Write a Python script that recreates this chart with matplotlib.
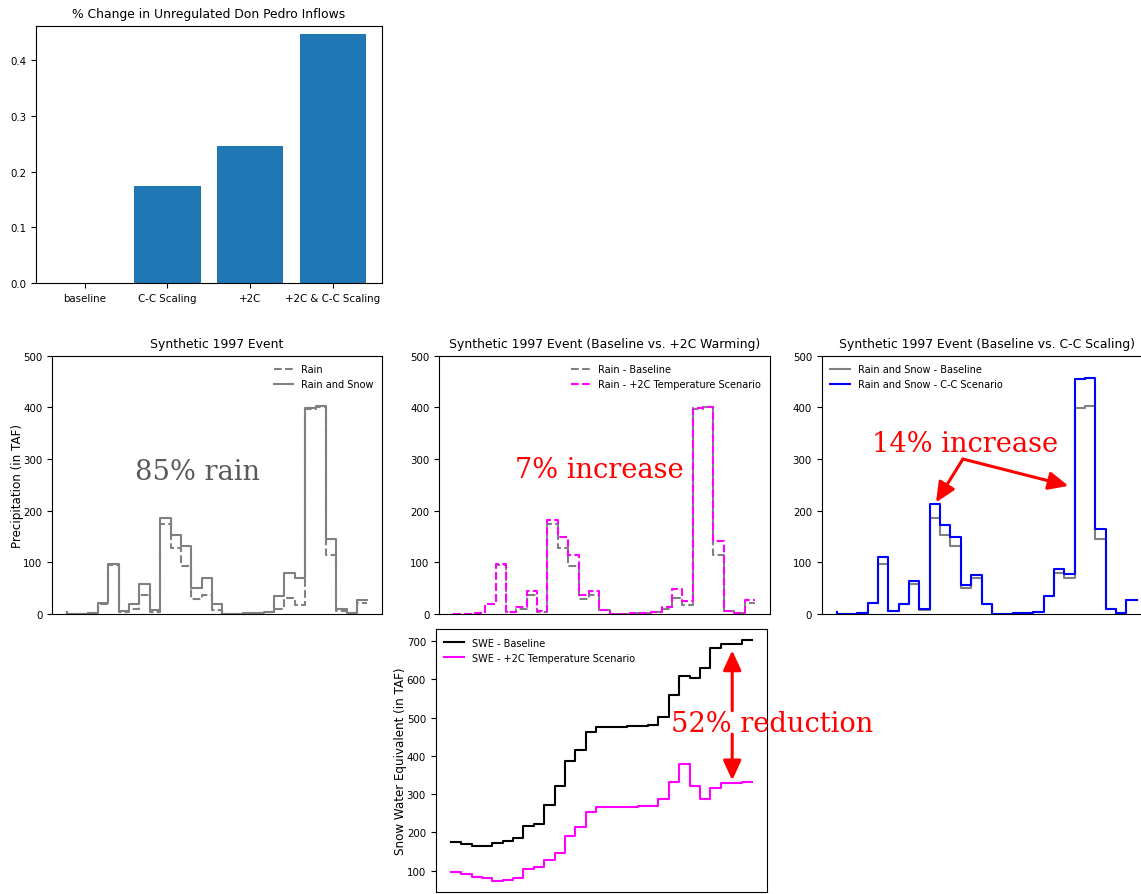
import matplotlib
matplotlib.use('Agg')
import matplotlib.pyplot as plt
import numpy as np

# ---------------- data ----------------
bar_categories = ['baseline', 'C-C Scaling', '+2C', '+2C & C-C Scaling']
bar_values = [0.0, 0.1746, 0.2463, 0.4472]

days = list(range(30))
rain_baseline = [2, 0, 0, 1, 19, 95, 3, 10, 37, 4, 175, 128, 93, 30, 37, 7,
                 0, 0, 1, 2, 3, 10, 31, 18, 397, 400, 114, 5, 1, 22]
rain_snow_baseline = [3, 0, 0, 1, 21, 97, 5, 19, 58, 8, 186, 152, 132, 51, 69, 19,
                      0, 0, 1, 2, 4, 34, 79, 69, 398, 402, 145, 10, 1, 28]
rain_plus2c = [2, 0, 0, 1, 19, 97, 3, 13, 44, 5, 181, 150, 114, 37, 44, 8,
               0, 0, 1, 2, 3, 14, 48, 26, 398, 401, 141, 5, 1, 27]
rain_snow_cc = [3, 0, 0, 1, 21, 110, 6, 19, 63, 9, 213, 173, 150, 56, 76, 19,
                0, 0, 1, 2, 4, 34, 88, 78, 454, 457, 165, 9, 2, 28]
swe_baseline = [174, 174, 170, 163, 165, 172, 178, 186, 216, 222, 271, 320, 386, 415, 463,
                476, 476, 476, 477, 478, 481, 503, 560, 610, 604, 631, 682, 694, 694, 704]
swe_plus2c = [97, 97, 92, 83, 81, 72, 75, 81, 104, 109, 127, 147, 190, 215, 253,
              267, 267, 267, 267, 268, 270, 288, 331, 379, 320, 287, 316, 328, 328, 331]

# ---------------- figure ----------------
W, H = 1141, 895
fig = plt.figure(figsize=(W / 100, H / 100), dpi=100)

TITLE = 8.9
TICK = 7.4
LEG = 7.0
YLAB = 8.6
SERIF = 19.6


def px_axes(left, top, right, bottom):
    return fig.add_axes([left / W, 1 - bottom / H, (right - left) / W, (bottom - top) / H])


# ---- bar chart ----
axb = px_axes(36, 26.7, 381.7, 284)
axb.bar(bar_categories, bar_values, width=0.8, color='#1f77b4')
axb.set_ylim(0, 0.4616)
axb.set_yticks([0.0, 0.1, 0.2, 0.3, 0.4])
axb.set_title('% Change in Unregulated Don Pedro Inflows', fontsize=TITLE)
axb.tick_params(labelsize=TICK)


def precip_style(ax, title):
    ax.set_ylim(0, 500)
    ax.set_yticks([0, 100, 200, 300, 400, 500])
    ax.set_xticks([])
    ax.set_title(title, fontsize=TITLE)
    ax.tick_params(labelsize=TICK)


# ---- chart 1 ----
ax1 = px_axes(52, 356.7, 382.3, 615)
ax1.plot(days, rain_baseline, drawstyle='steps-pre', color='gray', ls='--', label='Rain')
ax1.plot(days, rain_snow_baseline, drawstyle='steps-pre', color='gray', ls='-', label='Rain and Snow')
precip_style(ax1, 'Synthetic 1997 Event')
ax1.set_ylabel('Precipitation (in TAF)', fontsize=YLAB, labelpad=-1)
ax1.legend(loc='upper right', frameon=False, fontsize=LEG)
ax1.text(6.6, 262, '85% rain', family='DejaVu Serif', fontsize=SERIF, color='#5a5a5a',
         ha='left', va='baseline')

# ---- chart 2 ----
ax2 = px_axes(439, 356.7, 770, 615)
ax2.plot(days, rain_baseline, drawstyle='steps-pre', color='gray', ls='--', label='Rain - Baseline')
ax2.plot(days, rain_plus2c, drawstyle='steps-pre', color='magenta', ls='--',
         label='Rain - +2C Temperature Scenario')
precip_style(ax2, 'Synthetic 1997 Event (Baseline vs. +2C Warming)')
ax2.legend(loc='upper right', frameon=False, fontsize=LEG)
ax2.text(5.84, 265, '7% increase', family='DejaVu Serif', fontsize=SERIF, color='red',
         ha='left', va='baseline')

# ---- chart 3 ----
ax3 = px_axes(821.7, 356.7, 1151.7, 615)
ax3.plot(days, rain_snow_baseline, drawstyle='steps-pre', color='gray', ls='-',
         label='Rain and Snow - Baseline')
ax3.plot(days, rain_snow_cc, drawstyle='steps-pre', color='blue', ls='-',
         label='Rain and Snow - C-C Scenario')
precip_style(ax3, 'Synthetic 1997 Event (Baseline vs. C-C Scaling)')
ax3.legend(loc='upper left', frameon=False, fontsize=LEG)
ax3.text(3.4, 316, '14% increase', family='DejaVu Serif', fontsize=SERIF, color='red',
         ha='left', va='baseline')
arrow_kw = dict(arrowstyle='-|>,head_length=1.2,head_width=0.55', color='red', lw=2.2,
                shrinkA=0, shrinkB=0)
ax3.annotate('', xy=(9.6, 216), xytext=(12.2, 300), arrowprops=arrow_kw)
ax3.annotate('', xy=(22.4, 248), xytext=(12.2, 300), arrowprops=arrow_kw)

# ---- SWE chart ----
ax4 = px_axes(435.7, 630, 767, 893.3)
ax4.plot(days, swe_baseline, drawstyle='steps-pre', color='black', label='SWE - Baseline')
ax4.plot(days, swe_plus2c, drawstyle='steps-pre', color='magenta',
         label='SWE - +2C Temperature Scenario')
ax4.set_ylim(43, 732)
ax4.set_yticks([100, 200, 300, 400, 500, 600, 700])
ax4.set_xticks([])
ax4.tick_params(labelsize=TICK)
ax4.set_ylabel('Snow Water Equivalent (in TAF)', fontsize=YLAB, labelpad=0)
ax4.legend(loc='upper left', frameon=False, fontsize=LEG)
ax4.text(21.2, 466, '52% reduction', family='DejaVu Serif', fontsize=SERIF, color='red',
         ha='left', va='baseline', clip_on=False)
ax4.annotate('', xy=(27.1, 676), xytext=(27.1, 518), arrowprops=arrow_kw)
ax4.annotate('', xy=(27.1, 336), xytext=(27.1, 457), arrowprops=arrow_kw)

fig.savefig('out.png', dpi=100)
